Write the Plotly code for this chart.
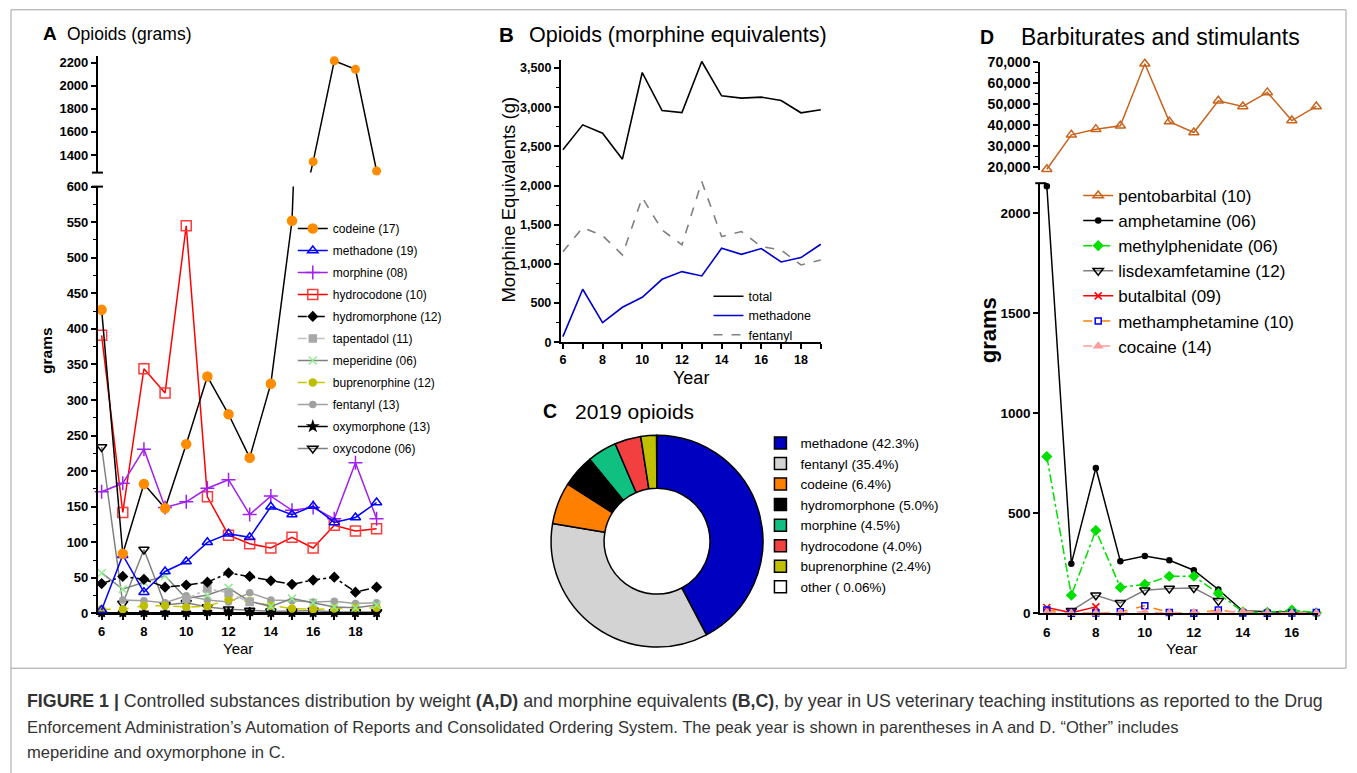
import plotly.graph_objects as go

W, H = 1357, 773
# the captured picture maps page rows y -> 7.2 + 0.98*y ; positions below are targets in the picture
def px(x): return x / W
def py(y): return 1 - ((y - 7.2) / 0.98) / H

FONT = "Arial, 'Liberation Sans', Helvetica, sans-serif"

# ---------------- data ----------------
years_a = list(range(6, 20))
codeine = [427, 84, 182, 148, 238, 333, 280, 219, 323, 552, 1342, 2217, 2143, 1261]
methadone = [5, 82, 30, 59, 73, 100, 112, 107, 150, 139, 151, 128, 135, 156]
morphine = [171, 183, 231, 149, 157, 176, 188, 139, 165, 145, 149, 133, 212, 133]
hydrocodone = [391, 142, 344, 310, 545, 164, 110, 98, 92, 107, 92, 124, 116, 119]
hydromorphone = [42, 52, 48, 37, 40, 44, 57, 52, 46, 41, 47, 51, 30, 37]
tapentadol = [None, None, None, None, 20, 35, 29, 16, None, None, None, None, None, None]
meperidine = [57, 34, 44, 53, 21, 26, 36, 17, 10, 21, 15, 9, 8, 12]
buprenorphine = [6, 6, 11, 11, 9, 10, 20, 17, 11, 7, 6, 7, 8, 8]
fentanyl = [None, 19, 18, 15, 25, 19, 16, 29, 19, 18, 16, 17, 14, 15]
oxymorphone = [1, 1, 1, 1, 1, 2, 2, 2, 1, 1, 1, 1, 1, 1]
oxycodone = [234, 14, 90, 12, 15, 9, 6, 4, 3, 3, 4, 2, 2, 2]

years_b = list(range(6, 20))
total_me = [2456, 2775, 2669, 2337, 3443, 2958, 2932, 3584, 3146, 3116, 3129, 3086, 2929, 2967]
methadone_me = [72, 677, 251, 447, 574, 804, 902, 847, 1200, 1123, 1196, 1026, 1081, 1251]
fentanyl_me = [1157, 1464, 1362, 1115, 1847, 1434, 1243, 2051, 1349, 1413, 1221, 1179, 987, 1051]

pie_labels = ["methadone (42.3%)", "fentanyl (35.4%)", "codeine (6.4%)", "hydromorphone (5.0%)",
              "morphine (4.5%)", "hydrocodone (4.0%)", "buprenorphine (2.4%)", "other ( 0.06%)"]
pie_values = [42.3, 35.4, 6.4, 5.0, 4.5, 4.0, 2.4, 0.06]

years_d = list(range(6, 18))
pentobarbital = [19048, 35400, 38100, 39700, 69200, 41700, 36500, 51600, 48900, 55600, 42200, 48900]
amphetamine = [2135, 249, 727, 261, 287, 266, 216, 120, 12, 10, 8, 3]
methylphenidate = [784, 91, 415, 130, 146, 186, 186, 100, 8, 5, 17, 3]
lisdexamfetamine = [None, 13, 91, 53, 116, 125, 127, 63, None, None, None, None]
butalbital = [30, 4, 33, None, None, None, None, None, None, None, None, None]
methamphetamine = [17, 1, 2, 8, 38, 5, 1, 17, 2, 1, 2, 5]
cocaine = [5, 1, 1, 4, 8, 3, 5, 8, 10, 4, 3, 2]

fig = go.Figure()

def line_trace(x, y, name, lcolor, dash, symbol, mcolor, msize, legend, xa, ya,
               showlegend=True, mode="lines+markers", clip=False, lw=1.5, rank=1000, fill=None):
    return go.Scatter(
        x=x, y=y, name=name, mode=mode, legend=legend, xaxis=xa, yaxis=ya,
        showlegend=showlegend, cliponaxis=clip, connectgaps=False,
        legendgroup=name, legendrank=rank,
        line=dict(color=lcolor, width=lw, dash=dash),
        marker=dict(symbol=symbol, color=mcolor, size=msize,
                    line=dict(color=mcolor, width=1.5)),
    )

# ---------------- Panel A ----------------
a_specs = [
    ("codeine (17)", codeine, "black", "solid", "circle", "#FF8C00", 9),
    ("methadone (19)", methadone, "#0000FF", "solid", "triangle-up-open", "#0000FF", 9),
    ("morphine (08)", morphine, "#A020F0", "solid", "cross-thin", "#A020F0", 10),
    ("hydrocodone (10)", hydrocodone, "#FF0000", "solid", "square-open", "#FF3C3C", 10),
    ("hydromorphone (12)", hydromorphone, "black", "dashdot", "diamond", "black", 7),
    ("tapentadol (11)", tapentadol, "#C0C0C0", "dashdot", "square", "#A8A8A8", 7),
    ("meperidine (06)", meperidine, "#808080", "solid", "x-thin", "#90EE90", 8),
    ("buprenorphine (12)", buprenorphine, "#C8C800", "dash", "circle", "#BEBE00", 7),
    ("fentanyl (13)", fentanyl, "#A0A0A0", "solid", "circle", "#A0A0A0", 6),
    ("oxymorphone (13)", oxymorphone, "black", "solid", "star", "black", 7),
    ("oxycodone (06)", oxycodone, "#808080", "solid", "triangle-down-open", "black", 9),
]
for i, (name, vals, lc, dash, sym, mc, ms) in reversed(list(enumerate(a_specs))):
    if i == 0:
        continue
    fig.add_trace(line_trace(years_a, vals, name, lc, dash, sym, mc, ms, "legend", "x", "y", rank=10 * i + 10))

# codeine: drawn across the broken axis
fig.add_trace(line_trace(years_a, codeine, "codeine (17)", "black", "solid", "circle", "#FF8C00", 9,
                         "legend", "x", "y", clip=True, rank=1))
fig.add_trace(go.Scatter(x=years_a, y=codeine, mode="lines", xaxis="x2", yaxis="y2",
                         showlegend=False, line=dict(color="black", width=1.5)))
hi_x = [x for x, v in zip(years_a, codeine) if v > 1000]
hi_y = [v for v in codeine if v > 1000]
fig.add_trace(go.Scatter(x=hi_x, y=hi_y, mode="markers", xaxis="x2", yaxis="y2", showlegend=False,
                         cliponaxis=False, marker=dict(symbol="circle", color="#FF8C00", size=9)))

# ---------------- Panel B ----------------
fig.add_trace(go.Scatter(x=years_b, y=total_me, name="total", mode="lines", xaxis="x3", yaxis="y3",
                         legend="legend2", line=dict(color="black", width=1.6)))
fig.add_trace(go.Scatter(x=years_b, y=methadone_me, name="methadone", mode="lines", xaxis="x3", yaxis="y3",
                         legend="legend2", line=dict(color="#0000CC", width=1.6)))
fig.add_trace(go.Scatter(x=years_b, y=fentanyl_me, name="fentanyl", mode="lines", xaxis="x3", yaxis="y3",
                         legend="legend2", line=dict(color="#808080", width=1.6, dash="dash")))

# ---------------- Panel C ----------------
pie_colors = ["#0000C0", "#D3D3D3", "#FF8000", "#000000", "#10C080", "#F24040", "#C0C000", "#FFFFFF"]
cx, cy, r = 656.5, 541, 106
fig.add_trace(go.Pie(labels=pie_labels, values=pie_values, hole=0.5, sort=False, direction="clockwise",
                     rotation=0, textinfo="none", hoverinfo="label", legend="legend3",
                     marker=dict(colors=pie_colors, line=dict(color="black", width=1.5)),
                     domain=dict(x=[px(cx - r), px(cx + r)], y=[py(cy + r), py(cy - r)])))

# ---------------- Panel D ----------------
fig.add_trace(line_trace(years_d, pentobarbital, "pentobarbital (10)", "#C8641E", "solid",
                         "triangle-up-open", "#C8641E", 9, "legend4", "x5", "y5"))
d_specs = [
    ("amphetamine (06)", amphetamine, "black", "solid", "circle", "black", 5),
    ("methylphenidate (06)", methylphenidate, "#00E000", "dashdot", "diamond", "#00E000", 7),
    ("lisdexamfetamine (12)", lisdexamfetamine, "#808080", "solid", "triangle-down-open", "black", 9),
    ("butalbital (09)", butalbital, "#FF0000", "solid", "x-thin", "#FF0000", 7),
    ("methamphetamine (10)", methamphetamine, "#FF8000", "dash", "square-open", "#0000FF", 6),
    ("cocaine (14)", cocaine, "#FF9C9C", "dash", "triangle-up", "#FF9C9C", 7),
]
for name, vals, lc, dash, sym, mc, ms in d_specs:
    fig.add_trace(line_trace(years_d, vals, name, lc, dash, sym, mc, ms, "legend4", "x4", "y4"))

# ---------------- axes ----------------
def ax(size, lw=2.0, **kw):
    d = dict(showline=True, linecolor="black", linewidth=lw, ticks="outside", ticklen=5,
             tickwidth=1.5, tickcolor="black", showgrid=False, zeroline=False, fixedrange=True,
             tickfont=dict(family=FONT, size=size, color="black", weight="bold"))
    d.update(kw)
    return d

def year_ticks(years):
    return dict(tickmode="array", tickvals=years,
                ticktext=[str(y) if y % 2 == 0 else "" for y in years])

fig.update_layout(
    xaxis=ax(13, domain=[px(97), px(378)], range=[5.825, 19.1], anchor="y", **year_ticks(years_a)),
    yaxis=ax(13, domain=[py(613.3), py(186.7)], range=[0, 600], anchor="x",
             tickmode="linear", tick0=0, dtick=50,
             minor=dict(dtick=25, ticks="outside", ticklen=3, tickwidth=1.2, tickcolor="black")),
    xaxis2=dict(domain=[px(97), px(378)], range=[5.825, 19.1], anchor="y2", visible=False, fixedrange=True),
    yaxis2=ax(13, domain=[py(172.7), py(56)], range=[1247, 2260], anchor="x2",
              tickmode="array", tickvals=[1400, 1600, 1800, 2000, 2200]),
    xaxis3=ax(12.5, lw=1.5, domain=[px(560), px(821)], range=[5.884, 19.03], anchor="y3",
              **year_ticks(years_b)),
    yaxis3=ax(12.5, lw=1.5, domain=[py(342.3), py(60)], range=[0, 3605], anchor="x3",
              tickmode="linear", tick0=0, dtick=500, tickformat=",d",
              minor=dict(dtick=250, ticks="outside", ticklen=3, tickwidth=1, tickcolor="black")),
    xaxis4=ax(13.5, domain=[px(1040), px(1318)], range=[5.73, 17.07], anchor="y4", **year_ticks(years_d)),
    yaxis4=ax(13.5, domain=[py(613.3), py(183.3)], range=[0, 2150], anchor="x4",
              tickmode="array", tickvals=[0, 500, 1000, 1500, 2000]),
    xaxis5=dict(domain=[px(1040), px(1318)], range=[5.73, 17.07], anchor="y5", visible=False, fixedrange=True),
    yaxis5=ax(14, domain=[py(170), py(61.7)], range=[18714, 70286], anchor="x5",
              tickmode="linear", tick0=20000, dtick=10000, tickformat=",d",
              minor=dict(dtick=5000, ticks="outside", ticklen=3, tickwidth=1.2, tickcolor="black")),
)

# ---------------- legends ----------------
def leg(x, y, size, gap, itemwidth=30):
    return dict(x=px(x), y=py(y), xanchor="left", yanchor="top", bgcolor="rgba(0,0,0,0)",
                font=dict(family=FONT, size=size, color="black"), itemwidth=itemwidth,
                traceorder="grouped", tracegroupgap=gap, itemclick=False, itemdoubleclick=False)

fig.update_layout(
    legend=leg(292, 214, 12, 3),
    legend2=leg(708, 281.6, 12.5, 0),
    legend3=leg(760, 427.6, 13.5, 0),
    legend4=leg(1078, 178, 17, 0),
)

# ---------------- text ----------------
ann = []
def text(x, y, s, size, xanchor="left", yanchor="middle", angle=0, color="black", bold=False):
    if bold:
        s = "<b>" + s + "</b>"
    ann.append(dict(x=px(x), y=py(y), xref="paper", yref="paper", text=s, showarrow=False,
                    xanchor=xanchor, yanchor=yanchor, textangle=angle,
                    font=dict(family=FONT, size=size, color=color)))

text(40, 34, "A", 19, bold=True)
text(64, 34, "Opioids (grams)", 17.5)
text(496, 35, "B", 20.5, bold=True)
text(526, 35, "Opioids (morphine equivalents)", 21.5)
text(540, 411, "C", 19.5, bold=True)
text(572, 411, "2019 opioids", 21)
text(978, 37, "D", 19.5, bold=True)
text(1019, 37, "Barbiturates and stimulants", 23)

text(45, 350, "grams", 15.5, xanchor="center", angle=-90, bold=True)
text(237, 648, "Year", 15, xanchor="center")
text(508, 200, "Morphine Equivalents (g)", 18.5, xanchor="center", angle=-90)
text(691, 378, "Year", 18, xanchor="center")
text(989, 330, "grams", 22, xanchor="center", angle=-90, bold=True)
text(1181, 648, "Year", 15.5, xanchor="center")

cap_color = "#333333"
text(24, 701, "<b>FIGURE 1 |</b> Controlled substances distribution by weight <b>(A,D)</b> and morphine "
     "equivalents <b>(B,C)</b>, by year in US veterinary teaching institutions as reported to the Drug",
     17.8, color=cap_color)
text(24, 727, "Enforcement Administration’s Automation of Reports and Consolidated Ordering System. "
     "The peak year is shown in parentheses in A and D. “Other” includes", 16.6, color=cap_color)
text(24, 752, "meperidine and oxymorphone in C.", 16.6, color=cap_color)

# ---------------- shapes (frame, axis breaks) ----------------
shapes = []
def seg(x0, y0, x1, y1, color="black", width=2):
    shapes.append(dict(type="line", xref="paper", yref="paper", x0=px(x0), y0=py(y0), x1=px(x1), y1=py(y1),
                       line=dict(color=color, width=width)))
seg(91, 172.7, 102, 172.7)
seg(91, 186.7, 102, 186.7)
seg(1035, 183.3, 1046, 183.3)
shapes.append(dict(type="rect", xref="paper", yref="paper", x0=px(10), y0=py(668), x1=px(1346), y1=py(10),
                   line=dict(color="#A0A0A0", width=1)))
seg(10, 668, 10, 773, color="#A0A0A0", width=1)

fig.update_layout(
    width=W, height=H, margin=dict(l=0, r=0, t=0, b=0), autosize=False,
    paper_bgcolor="white", plot_bgcolor="white",
    font=dict(family=FONT, color="black"),
    annotations=ann, shapes=shapes, hovermode="closest",
)

fig.write_html("out.html", config={"displayModeBar": False},
               post_script="document.body.style.margin='0';document.body.style.overflow='hidden';")
